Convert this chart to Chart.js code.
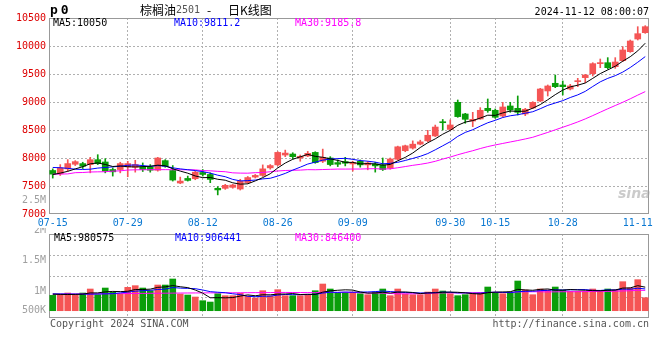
<!DOCTYPE html>
<html><head><meta charset="utf-8">
<script src="https://cdn.jsdelivr.net/npm/chart.js@4.4.0/dist/chart.umd.min.js"></script>
<style>
html,body{margin:0;padding:0;background:#fff;}
#wrap{position:relative;width:660px;height:360px;overflow:hidden;background:#fff;font-family:"DejaVu Sans Mono",monospace;font-size:10px;color:#000;}
canvas{position:absolute;left:0;}
#cv{top:190px;}
#cm{top:0;}
.t{position:absolute;white-space:nowrap;line-height:12px;}
</style></head><body>
<div id="wrap">
<canvas id="cv" width="660" height="170"></canvas>
<canvas id="cm" width="660" height="228"></canvas>
<div class="t" style="left:50px;top:3px;font-weight:bold;font-size:13px;letter-spacing:3px;line-height:14px;">p0</div>
<div class="t" style="left:140px;top:2px;font-family:'Noto Sans CJK SC';font-size:12px;line-height:16px;">棕榈油</div>
<div class="t" style="left:176px;top:4px;color:#555;">2501</div>
<div class="t" style="left:207px;top:2px;font-family:'Noto Sans CJK SC';font-size:12px;line-height:16px;">-</div>
<div class="t" style="left:228px;top:2px;font-family:'Noto Sans CJK SC';font-size:12px;line-height:16px;">日K线图</div>
<div class="t" style="right:11px;top:6px;">2024-11-12 08:00:07</div>
<div class="t" style="left:53px;top:17px;">MA5:10050</div>
<div class="t" style="left:174px;top:17px;color:#0000ff;">MA10:9811.2</div>
<div class="t" style="left:295px;top:17px;color:#ff00ff;">MA30:9185.8</div>
<div class="t" style="left:54px;top:232px;">MA5:980575</div>
<div class="t" style="left:175px;top:232px;color:#0000ff;">MA10:906441</div>
<div class="t" style="left:295px;top:232px;color:#ff00ff;">MA30:846400</div>
<div class="t" style="left:618px;top:187px;font-family:'DejaVu Sans';font-style:italic;font-weight:bold;font-size:14px;color:rgba(160,160,160,0.55);">sina</div>
<div class="t" style="left:50px;top:318px;color:#555;">Copyright 2024 SINA.COM</div>
<div class="t" style="right:11px;top:318px;color:#555;">http://finance.sina.com.cn</div>
</div>
<script>
// ---- data ----
const dates = ['07-15','07-16','07-17','07-18','07-19','07-22','07-23','07-24','07-25','07-26',
'07-29','07-30','07-31','08-01','08-02','08-05','08-06','08-07','08-08','08-09',
'08-12','08-13','08-14','08-15','08-16','08-19','08-20','08-21','08-22','08-23',
'08-26','08-27','08-28','08-29','08-30','09-02','09-03','09-04','09-05','09-06',
'09-09','09-10','09-11','09-12','09-13','09-18','09-19','09-20','09-23','09-24',
'09-25','09-26','09-27','09-30','10-08','10-09','10-10','10-11','10-14','10-15',
'10-16','10-17','10-18','10-21','10-22','10-23','10-24','10-25','10-28','10-29',
'10-30','10-31','11-01','11-04','11-05','11-06','11-07','11-08','11-11','11-12'];
const tickDates = ['07-15','07-29','08-12','08-26','09-09','09-30','10-15','10-28','11-11'];

const openP = [7777,7718,7806,7888,7900,7882,7970,7929,7794,7794,
7841,7835,7841,7841,7782,7953,7777,7553,7635,7630,
7741,7706,7459,7458,7476,7446,7561,7659,7689,7824,
7877,8053,8071,8000,8036,8100,7942,8000,7918,7936,
7894,7942,7877,7894,7877,7818,7977,8130,8177,8247,
8306,8394,8647,8510,8994,8786,8661,8697,8887,8852,
8750,8929,8887,8786,8893,9018,9197,9334,9304,9232,
9363,9435,9506,9685,9702,9631,9738,9899,10125,10238];
const highP = [7806,7882,7971,7953,7924,8012,8059,7988,7824,7924,
7941,7959,7912,7882,8012,7971,7865,7659,7677,7765,
7794,7735,7488,7530,7530,7620,7670,7706,7877,7883,
8112,8141,8094,8053,8118,8112,8159,8024,7965,8012,
7942,7965,7936,7924,8000,8000,8212,8230,8306,8318,
8494,8588,8688,8680,9036,8798,8816,8899,9054,8875,
8994,8994,9108,8887,9006,9244,9304,9482,9375,9316,
9423,9494,9702,9768,9792,9792,9988,10107,10345,10363];
const lowP = [7641,7688,7765,7865,7812,7735,7882,7735,7677,7735,
7665,7747,7759,7747,7765,7835,7588,7541,7588,7612,
7677,7559,7341,7440,7460,7428,7545,7642,7671,7800,
7859,8024,7983,7942,8024,7906,7918,7859,7847,7859,
7765,7836,7789,7748,7777,7800,7965,8112,8159,8235,
8288,8382,8500,8494,8727,8620,8560,8691,8816,8709,
8733,8816,8768,8756,8881,9006,9107,9256,9125,9215,
9274,9345,9465,9613,9589,9601,9720,9887,10107,10226];
const closeP = [7712,7824,7900,7935,7853,7970,7900,7765,7753,7900,
7900,7882,7794,7782,8000,7853,7606,7588,7600,7747,
7706,7618,7430,7512,7518,7585,7651,7689,7806,7865,
8100,8088,8024,8030,8083,7918,8012,7883,7889,7906,
7918,7877,7912,7859,7795,7983,8200,8218,8247,8288,
8406,8553,8630,8590,8739,8691,8691,8852,8846,8727,
8911,8858,8816,8870,8994,9232,9286,9274,9274,9286,
9381,9482,9685,9702,9613,9714,9929,10089,10220,10345];

const ma5 = [7705,7730,7762,7805,7845,7896,7912,7885,7848,7858,
7844,7840,7846,7852,7872,7862,7807,7766,7729,7679,
7649,7652,7620,7603,7557,7533,7539,7591,7650,7719,
7822,7910,7977,8021,8065,8029,8013,7985,7957,7922,
7922,7895,7900,7894,7872,7885,7950,8011,8089,8187,
8272,8342,8425,8493,8584,8641,8668,8713,8764,8761,
8805,8839,8832,8836,8890,8954,9040,9131,9212,9270,
9300,9339,9422,9507,9573,9639,9729,9809,9913,10050];
const ma10 = [7831,7826,7815,7800,7795,7800,7820,7830,7842,7852,
7870,7876,7865,7850,7865,7853,7824,7806,7791,7776,
7756,7730,7693,7666,7618,7591,7596,7606,7627,7638,
7678,7725,7784,7836,7892,7926,7962,7981,7989,7994,
7976,7954,7943,7926,7897,7904,7923,7956,7992,8030,
8079,8146,8218,8291,8386,8457,8505,8569,8629,8673,
8723,8754,8773,8800,8826,8880,8940,8982,9024,9080,
9127,9190,9277,9360,9422,9470,9534,9616,9710,9811];
const ma30 = [7711,7713,7716,7738,7741,7750,7753,7755,7765,7771,
7785,7789,7790,7791,7792,7792,7791,7790,7789,7788,
7775,7771,7762,7755,7735,7730,7729,7738,7741,7755,
7768,7777,7781,7784,7792,7790,7794,7798,7802,7802,
7803,7803,7807,7809,7802,7807,7826,7847,7869,7887,
7910,7941,7981,8017,8058,8095,8130,8169,8204,8233,
8260,8286,8312,8340,8370,8414,8457,8503,8549,8595,
8644,8698,8757,8818,8879,8937,8995,9057,9123,9186];

const volume = [639000,667000,737000,667000,737000,904000,667000,945000,765000,695000,
973000,1043000,945000,834000,1070000,1070000,1321000,695000,653000,570000,
417000,361000,709000,626000,626000,723000,612000,528000,834000,612000,
876000,626000,626000,626000,667000,834000,1112000,904000,737000,765000,
778000,709000,667000,778000,904000,626000,904000,695000,667000,667000,
778000,904000,820000,709000,626000,667000,737000,737000,987000,737000,
709000,778000,1237000,862000,667000,904000,862000,987000,862000,806000,
806000,806000,904000,834000,904000,862000,1209000,945000,1293000,542000];
const volMa5 = [690000,680000,675000,680000,689000,742000,742000,784000,804000,795000,
809000,884000,884000,898000,973000,992000,1048000,998000,962000,862000,
731000,539000,542000,537000,548000,609000,659000,623000,665000,662000,
692000,695000,715000,673000,684000,676000,773000,829000,851000,870000,
859000,779000,731000,739000,767000,737000,776000,781000,759000,712000,
742000,742000,767000,776000,767000,745000,712000,695000,751000,773000,
781000,790000,890000,865000,851000,890000,906000,856000,856000,884000,
865000,853000,837000,831000,851000,862000,943000,951000,1043000,980575];
const volMa10 = [700000,698000,695000,693000,690000,692000,696000,702000,712000,742000,
776000,813000,834000,851000,884000,901000,966000,941000,930000,918000,
862000,794000,770000,750000,705000,670000,599000,583000,601000,605000,
651000,677000,669000,669000,673000,684000,734000,772000,762000,777000,
768000,776000,780000,795000,819000,798000,778000,756000,749000,740000,
740000,759000,774000,768000,740000,744000,727000,731000,764000,770000,
763000,751000,793000,808000,812000,836000,848000,873000,861000,868000,
878000,880000,847000,844000,868000,864000,898000,894000,937000,906441];
const volMa30 = [690000,692000,694000,696000,698000,700000,703000,706000,709000,712000,
715000,718000,721000,724000,727000,730000,733000,736000,738000,740000,
742000,744000,745000,746000,747000,748000,750000,752000,753000,755000,
763000,761000,758000,756000,754000,752000,767000,765000,764000,767000,
760000,749000,740000,738000,732000,717000,703000,703000,704000,707000,
719000,737000,741000,744000,744000,742000,746000,753000,758000,762000,
756000,761000,781000,789000,789000,791000,783000,786000,790000,791000,
792000,795000,803000,805000,805000,813000,823000,831000,852000,846400];
const volTickValues = [2500000, 2000000, 1500000, 1000000, 500000];

// ---- styling ----
const FONT = 'DejaVu Sans Mono';
const UP = '#f55555', DOWN = '#0a9e0a';
const GRID = '#b0b0b0', FRAME = '#999999';
const isUp = i => closeP[i] >= openP[i];
const tickIdx = new Set(tickDates.map(d => dates.indexOf(d)));
const gridIdx = new Set([...tickIdx].filter(i => i > 0 && i < dates.length - 2));
const fmtVol = v => v >= 1e6 ? (v / 1e6) + 'M' : (v / 1e3) + 'K';

function drawFrame(chart) {
  const {ctx, chartArea: a} = chart;
  ctx.save();
  ctx.strokeStyle = FRAME; ctx.lineWidth = 1;
  ctx.strokeRect(Math.round(a.left) + 0.5, Math.round(a.top) + 0.5, Math.round(a.width) - 1, Math.round(a.height) - 1);
  ctx.restore();
}

const mainDeco = {
  id: 'mainDeco',
  beforeDraw(chart) {
    const {ctx, chartArea: a, width, height} = chart;
    ctx.save(); ctx.fillStyle = '#fff';
    ctx.fillRect(0, a.bottom, width, height - a.bottom);
    ctx.restore();
  },
  beforeDatasetsDraw(chart) { drawFrame(chart); }
};

const volDeco = {
  id: 'volDeco',
  beforeDatasetsDraw(chart) { drawFrame(chart); },
  afterDraw(chart) {
    const s = chart.scales.yLab, a = chart.chartArea, ctx = chart.ctx;
    ctx.save();
    ctx.font = '10px "' + FONT + '"'; ctx.fillStyle = '#a0a0a0';
    ctx.textAlign = 'right'; ctx.textBaseline = 'middle';
    volTickValues.forEach(v => {
      const y = Math.min(s.getPixelForValue(v), a.bottom - 8);
      ctx.fillText(fmtVol(v), a.left - 3, y);
    });
    ctx.restore();
  }
};

const lineDs = (label, data, color, axis) => ({
  type: 'line', label, data, borderColor: color, borderWidth: 1, pointRadius: 0,
  tension: 0, order: 0, yAxisID: axis
});

const xGrid = {
  offset: false, drawTicks: false,
  color: c => gridIdx.has(c.index) ? GRID : 'rgba(0,0,0,0)', lineWidth: 1
};

new Chart(document.getElementById('cm'), {
  data: {
    labels: dates,
    datasets: [
      lineDs('MA5', ma5, '#000000', 'y'),
      lineDs('MA10', ma10, '#0000ff', 'y'),
      lineDs('MA30', ma30, '#ff00ff', 'y'),
      { type: 'bar', label: 'body', yAxisID: 'y',
        data: dates.map((d, i) => [Math.min(openP[i], closeP[i]), Math.max(openP[i], closeP[i])]),
        backgroundColor: c => isUp(c.dataIndex) ? UP : DOWN,
        barThickness: 6, grouped: false, minBarLength: 1, order: 2 },
      { type: 'bar', label: 'wick', yAxisID: 'y',
        data: dates.map((d, i) => [lowP[i], highP[i]]),
        backgroundColor: c => isUp(c.dataIndex) ? UP : DOWN,
        barThickness: 1, grouped: false, order: 3 }
    ]
  },
  options: {
    responsive: false, animation: false, events: [],
    layout: { padding: { left: 0, right: 11, top: 18, bottom: 0 } },
    plugins: { legend: { display: false }, tooltip: { enabled: false } },
    scales: {
      x: {
        type: 'category', offset: true,
        grid: xGrid,
        border: { display: false, dash: [2, 2] },
        ticks: { autoSkip: false, maxRotation: 0, minRotation: 0, padding: 3,
          color: '#0a78d2', font: { family: FONT, size: 10 },
          callback: (v, i) => tickIdx.has(i) ? dates[i] : '' },
        afterFit: s => { s.height = 14; }
      },
      y: {
        min: 7000, max: 10500,
        ticks: { stepSize: 500, padding: 3, color: '#dd0000', font: { family: FONT, size: 10 },
          callback: v => String(v) },
        grid: { drawTicks: false, color: c => (c.tick.value > 7000 && c.tick.value < 10500) ? GRID : 'rgba(0,0,0,0)' },
        border: { display: false, dash: [2, 2] },
        afterFit: s => { s.width = 49; }
      }
    }
  },
  plugins: [mainDeco]
});

new Chart(document.getElementById('cv'), {
  data: {
    labels: dates,
    datasets: [
      lineDs('MA5', volMa5, '#000000', 'y'),
      lineDs('MA10', volMa10, '#0000ff', 'y'),
      lineDs('MA30', volMa30, '#ff00ff', 'y'),
      { type: 'bar', label: 'volume', data: volume, yAxisID: 'y',
        backgroundColor: c => isUp(c.dataIndex) ? UP : DOWN,
        barThickness: 6, order: 1 }
    ]
  },
  options: {
    responsive: false, animation: false, events: [],
    layout: { padding: { left: 49, right: 11, top: 44, bottom: 42 } },
    plugins: { legend: { display: false }, tooltip: { enabled: false } },
    scales: {
      x: {
        type: 'category', offset: true,
        grid: xGrid,
        border: { display: false, dash: [2, 2] },
        ticks: { display: false, autoSkip: false, maxRotation: 0 },
        afterFit: s => { s.height = 0; }
      },
      y: { display: false, min: -304000, max: 3196000 },
      yGrid: {
        position: 'left', min: 0, max: 4,
        ticks: { display: false, stepSize: 1 },
        grid: { drawTicks: false, color: c => (c.tick.value > 0 && c.tick.value < 4) ? GRID : 'rgba(0,0,0,0)' },
        border: { display: false, dash: [2, 2] },
        afterFit: s => { s.width = 0; }
      },
      yLab: { display: false, min: 554450, max: 1940600 }
    }
  },
  plugins: [volDeco]
});
</script>
</body></html>
